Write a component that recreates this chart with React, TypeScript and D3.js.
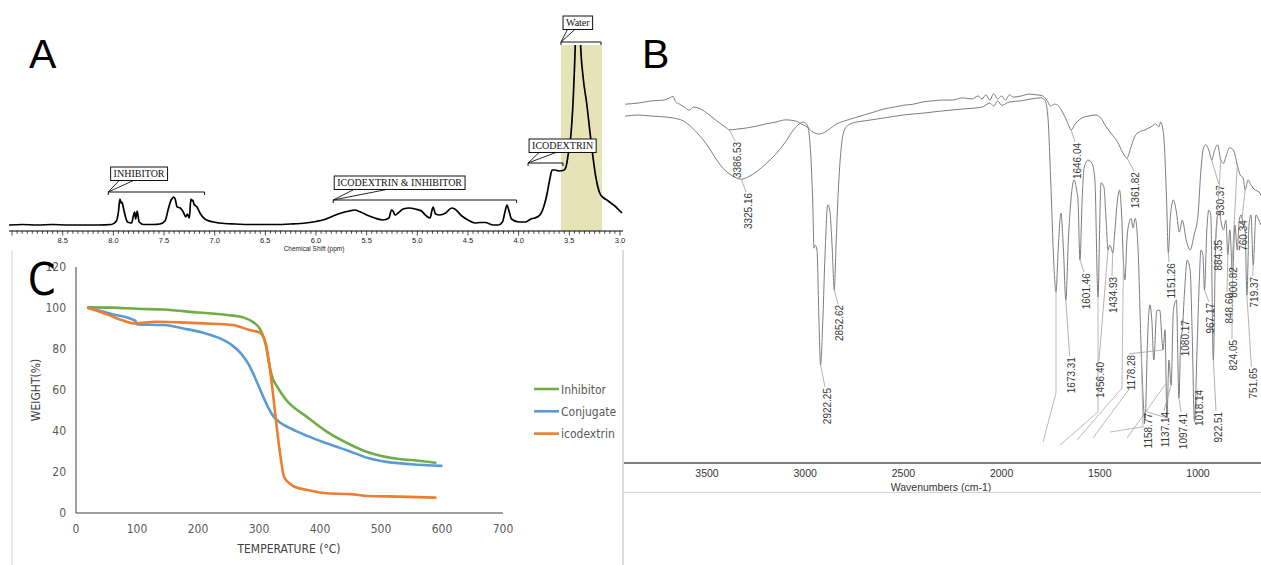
import React, { useEffect, useRef } from "react";
import * as d3 from "d3";

const WIDTH = 1261;
const HEIGHT = 565;

// ---------- A: 1H NMR (chemical shift ppm, signal height)
const nmrSpectrum: [number, number][] = [
  [9.03, 1], [8.9, 1.5], [8.75, 1], [8.6, 1.5], [8.45, 1], [8.3, 1], [8.15, 1], [8.02, 1.5],
  [7.97, 5], [7.95, 14], [7.935, 27], [7.925, 23], [7.915, 24], [7.905, 20], [7.885, 11],
  [7.86, 4], [7.82, 3], [7.805, 9], [7.79, 14], [7.78, 7], [7.765, 15], [7.745, 4], [7.7, 1.5],
  [7.6, 1.5], [7.54, 2], [7.49, 5], [7.46, 16], [7.43, 26], [7.415, 28], [7.405, 29], [7.39, 27],
  [7.37, 19], [7.34, 18], [7.31, 14], [7.285, 9], [7.27, 12], [7.25, 8], [7.235, 27], [7.222, 25],
  [7.215, 26], [7.205, 22], [7.175, 19], [7.145, 13], [7.08, 6], [6.95, 3], [6.8, 2], [6.6, 1.5],
  [6.4, 1.5], [6.25, 2], [6.1, 3], [6.0, 4.5], [5.9, 7], [5.83, 10], [5.75, 13], [5.67, 15],
  [5.62, 16], [5.56, 14], [5.5, 11], [5.42, 8], [5.34, 6], [5.28, 8], [5.255, 16], [5.24, 15],
  [5.22, 11], [5.19, 13], [5.14, 17], [5.08, 18], [5.02, 17], [4.96, 15], [4.91, 10], [4.875, 8],
  [4.845, 19], [4.82, 12], [4.78, 11], [4.72, 13], [4.66, 18], [4.63, 17], [4.56, 10], [4.5, 6],
  [4.43, 3], [4.38, 3.5], [4.33, 3.5], [4.25, 1], [4.2, 1], [4.16, 4], [4.135, 14], [4.115, 21],
  [4.095, 15], [4.07, 7], [4.0, 4], [3.93, 4], [3.88, 7], [3.84, 8], [3.79, 11], [3.75, 20],
  [3.72, 32], [3.69, 48], [3.67, 56], [3.64, 56], [3.6, 55], [3.55, 56], [3.53, 60], [3.51, 72],
  [3.49, 85], [3.46, 130], [3.44, 185], [3.415, 300], [3.39, 185], [3.365, 150], [3.33, 124],
  [3.28, 80], [3.24, 50], [3.2, 33], [3.16, 28], [3.13, 26], [3.09, 23], [3.05, 20], [3.0, 15],
  [2.98, 13]
];
const nmrTickLabels = [8.5, 8.0, 7.5, 7.0, 6.5, 6.0, 5.5, 5.0, 4.5, 4.0, 3.5, 3.0];
const nmrRegions = [
  { name: "INHIBITOR", from: 8.05, to: 7.1, level: 34, boxAt: 8.027, boxTop: 59 },
  { name: "ICODEXTRIN & INHIBITOR", from: 5.83, to: 4.02, level: 26, boxAt: 5.82, boxTop: 50 },
  { name: "ICODEXTRIN", from: 3.907, to: 3.562, level: 63, boxAt: 3.897, boxTop: 87 },
  { name: "Water", from: 3.582, to: 3.187, level: 184, boxAt: 3.562, boxTop: 210 }
];
const waterBand = { from: 3.582, to: 3.177, top: 181 };

// ---------- B: FTIR (wavenumber cm-1, %T)
const ftirTop: [number, number][] = [
  [3917, 96.2], [3850, 96.5], [3780, 97.1], [3720, 97.3], [3690, 97.9], [3673, 98.3], [3660, 96.8],
  [3640, 96.2], [3610, 95.2], [3590, 94.6], [3570, 95.4], [3545, 95.2], [3500, 93.8], [3450, 91.7],
  [3400, 89.8], [3386, 89.3], [3350, 89.5], [3300, 89.8], [3250, 90.3], [3200, 90.9], [3150, 91.4],
  [3100, 92.0], [3050, 91.7], [3020, 90.9], [2990, 90.1], [2960, 88.7], [2930, 88.2], [2900, 88.7],
  [2870, 89.8], [2840, 90.9], [2800, 91.7], [2750, 92.5], [2700, 93.3], [2650, 94.1], [2600, 94.9],
  [2550, 95.4], [2500, 95.9], [2450, 96.2], [2400, 96.8], [2350, 97.1], [2300, 97.3], [2250, 97.3],
  [2200, 97.9], [2150, 97.6], [2120, 98.4], [2100, 97.6], [2080, 98.7], [2060, 97.3], [2040, 99.0],
  [2020, 97.6], [2000, 98.4], [1980, 97.3], [1960, 98.7], [1940, 98.1], [1900, 98.4], [1860, 98.9],
  [1820, 98.7], [1790, 98.4], [1770, 97.3], [1750, 95.7], [1730, 96.2], [1710, 95.7], [1690, 94.1],
  [1665, 91.4], [1646, 89.3], [1625, 90.9], [1600, 92.2], [1560, 93.0], [1520, 93.3], [1495, 92.5],
  [1470, 90.3], [1440, 88.2], [1410, 86.1], [1385, 83.4], [1362, 81.8], [1340, 84.9], [1320, 87.7],
  [1300, 88.7], [1270, 89.3], [1240, 90.1], [1215, 90.9], [1200, 90.1], [1190, 91.4], [1175, 87.9],
  [1160, 70.5], [1151, 56.3], [1140, 66.5], [1125, 70.5], [1110, 67.3], [1095, 61.9], [1080, 65.1],
  [1060, 59.8], [1040, 57.1], [1020, 61.1], [1000, 66.5], [985, 78.6], [972, 84.5], [960, 85.3],
  [945, 83.9], [930, 81.2], [918, 83.4], [900, 85.3], [884, 81.2], [870, 80.4], [855, 82.6],
  [840, 84.5], [820, 83.9], [800, 79.9], [785, 77.2], [770, 76.4], [760, 73.2], [745, 75.9],
  [730, 74.5], [710, 73.2], [690, 72.7], [680, 71.8]
];
const ftirBottom: [number, number][] = [
  [3917, 93.0], [3850, 93.3], [3780, 93.0], [3720, 92.8], [3673, 92.5], [3620, 91.7], [3580, 90.1],
  [3540, 87.9], [3500, 85.3], [3460, 82.0], [3420, 79.1], [3386, 77.5], [3350, 76.4], [3325, 76.1],
  [3290, 76.7], [3250, 78.0], [3200, 80.2], [3150, 82.8], [3100, 86.1], [3060, 89.3], [3030, 90.9],
  [3010, 91.4], [2990, 90.6], [2975, 85.3], [2962, 70.5], [2955, 57.6], [2948, 58.4], [2940, 57.1],
  [2930, 38.3], [2922, 26.3], [2912, 35.7], [2900, 54.4], [2885, 69.2], [2875, 67.8], [2862, 57.1],
  [2852, 46.4], [2842, 59.8], [2830, 74.5], [2815, 85.3], [2800, 89.3], [2780, 90.6], [2740, 91.4],
  [2700, 91.7], [2600, 92.5], [2500, 93.3], [2400, 93.8], [2300, 94.4], [2200, 94.9], [2100, 95.4],
  [2060, 96.5], [2040, 95.7], [2020, 97.1], [2000, 95.9], [1960, 96.8], [1900, 97.1], [1850, 97.6],
  [1800, 97.9], [1780, 97.3], [1765, 93.3], [1750, 75.9], [1735, 54.4], [1723, 45.8], [1712, 57.1],
  [1698, 67.0], [1685, 57.1], [1673, 43.7], [1660, 59.8], [1647, 70.5], [1631, 75.9], [1618, 73.2],
  [1611, 70.5], [1601, 54.4], [1590, 70.5], [1580, 79.1], [1560, 81.2], [1540, 80.4], [1525, 75.9],
  [1509, 44.5], [1500, 65.1], [1494, 75.1], [1479, 74.0], [1468, 65.1], [1458, 57.1], [1450, 58.4],
  [1443, 57.9], [1434, 56.3], [1425, 61.1], [1410, 70.5], [1400, 73.2], [1390, 67.8], [1380, 54.4],
  [1372, 49.1], [1362, 59.8], [1350, 64.6], [1340, 65.6], [1331, 63.0], [1320, 65.6], [1305, 57.1],
  [1290, 31.6], [1270, 11.5], [1255, 35.7], [1245, 42.4], [1235, 38.3], [1225, 27.6], [1210, 40.8],
  [1195, 41.0], [1178, 30.3], [1168, 35.7], [1158, 12.1], [1148, 27.6], [1137, 20.9], [1125, 41.0],
  [1110, 43.7], [1097, 17.4], [1088, 33.0], [1080, 35.7], [1068, 46.4], [1055, 54.4], [1040, 51.7],
  [1030, 35.7], [1018, 11.0], [1005, 30.3], [995, 46.4], [985, 57.1], [975, 55.8], [967, 46.4],
  [955, 62.5], [945, 67.8], [935, 66.5], [922, 27.6], [910, 59.8], [900, 66.5], [890, 67.3],
  [884, 65.1], [870, 62.5], [858, 65.1], [848, 55.8], [838, 62.5], [824, 50.4], [812, 63.8],
  [800, 57.1], [790, 65.1], [780, 66.5], [770, 63.8], [760, 61.9], [751, 45.0], [740, 63.8],
  [730, 66.5], [719, 53.1], [705, 66.5], [690, 65.1], [680, 63.8]
];
const ftirTicks = [3500, 3000, 2500, 2000, 1500, 1000];
// label, peak wavenumber, peak %T, label wavenumber, label top %T
const ftirPeaks: [string, number, number, number, number][] = [
  ["3386.53", 3386, 89.3, 3347, 86.1],
  ["3325.16", 3325, 76.1, 3291, 72.4],
  ["2922.25", 2922, 26.3, 2889, 20.1],
  ["2852.62", 2852, 46.4, 2823, 42.4],
  ["1646.04", 1646, 89.3, 1616, 85.8],
  ["1361.82", 1362, 81.8, 1316, 78.0],
  ["1673.31", 1673, 43.7, 1643, 28.4],
  ["1601.46", 1601, 54.4, 1570, 50.9],
  ["1456.40", 1458, 57.1, 1494, 27.1],
  ["1434.93", 1434, 56.3, 1428, 49.9],
  ["1178.28", 1178, 30.3, 1341, 29.0],
  ["1151.26", 1151, 56.3, 1137, 53.6],
  ["1158.77", 1158, 12.1, 1250, 13.4],
  ["1137.14", 1137, 20.9, 1163, 13.7],
  ["1097.41", 1097, 17.4, 1076, 13.4],
  ["1080.17", 1080, 35.7, 1066, 38.3],
  ["1018.14", 1018, 11.0, 990, 19.6],
  ["967.17", 967, 46.4, 934, 42.9],
  ["922.51", 922, 27.6, 898, 13.7],
  ["930.37", 930, 81.2, 884, 74.5],
  ["884.35", 884, 81.2, 898, 59.8],
  ["848.60", 848, 55.8, 842, 45.6],
  ["824.05", 824, 50.4, 817, 33.0],
  ["800.82", 800, 79.9, 817, 52.5],
  ["760.34", 760, 73.2, 766, 65.1],
  ["751.65", 751, 45.0, 718, 25.5],
  ["719.37", 719, 53.1, 711, 49.9]
];
const ftirLeaders: [number, number][][] = [
  [[1723, 45.8], [1723, 18.8], [1789, 5.6]],
  [[1509, 44.5], [1509, 13.7], [1703, 4.8]],
  [[1380, 54.4], [1387, 20.1], [1616, 6.2]],
  [[1346, 20.1], [1535, 6.7]],
  [[1290, 31.6], [1280, 9.7], [1448, 8.3]],
  [[1158, 21.7], [1361, 6.7]]
];

// ---------- C: TGA (temperature C, weight %)
const tgaInhibitor: [number, number][] = [
  [20, 100.3], [60, 100.2], [100, 99.6], [143, 99.3], [200, 97.8], [251, 96.5], [275, 95.3],
  [291, 93], [300, 90.5], [306, 87], [311, 82], [316, 74], [321, 67], [330, 61.5], [345, 55],
  [378, 47], [411, 39.7], [450, 33.3], [475, 30], [505, 27.5], [530, 26.3], [560, 25.5], [589, 24.5]
];
const tgaConjugate: [number, number][] = [
  [20, 100], [60, 97], [97, 93.8], [100, 92], [143, 91.7], [180, 89.8], [210, 87.8], [235, 85.3],
  [255, 82], [270, 78], [283, 72.5], [295, 65], [305, 58], [315, 51.5], [324, 47], [335, 44],
  [350, 41.5], [380, 37.5], [411, 34], [445, 30.5], [479, 26.8], [512, 24.8], [550, 23.8], [599, 23]
];
const tgaIcodextrin: [number, number][] = [
  [20, 100], [50, 97], [76, 94], [97, 92.5], [130, 93.3], [170, 93], [210, 92.5], [257, 91.7],
  [284, 89.3], [301, 88], [311, 83], [316, 74], [321, 63], [326, 50], [331, 37], [336, 26],
  [341, 17.7], [350, 14.5], [358, 12.8], [380, 11.2], [411, 9.6], [450, 9.2], [479, 8.3],
  [530, 8], [589, 7.5]
];
const tgaSeries = [
  { name: "Inhibitor", color: "#70ad47", values: tgaInhibitor },
  { name: "Conjugate", color: "#5b9bd5", values: tgaConjugate },
  { name: "icodextrin", color: "#ed7d31", values: tgaIcodextrin }
];
const tempTicks = [0, 100, 200, 300, 400, 500, 600, 700];
const weightTicks = [0, 20, 40, 60, 80, 100, 120];

const SANS = "'Liberation Sans', Arial, sans-serif";
const SERIF = "'Liberation Serif', 'Times New Roman', serif";
const NARROW = "'Liberation Sans Narrow', 'DejaVu Sans Condensed', 'Liberation Sans', sans-serif";

type G = d3.Selection<SVGGElement, unknown, null, undefined>;

function drawNmr(g: G) {
  const x = d3.scaleLinear().domain([9.03, 2.97]).range([9, 623]);
  const y = d3.scaleLinear().domain([0, 180]).range([226, 46]);
  const axisY = 231;

  // water highlight
  g.append("rect")
    .attr("x", x(waterBand.from))
    .attr("y", y(waterBand.top))
    .attr("width", x(waterBand.to) - x(waterBand.from))
    .attr("height", axisY - y(waterBand.top))
    .attr("fill", "#e6e4b6");

  g.append("clipPath").attr("id", "nmr-clip")
    .append("rect").attr("x", 0).attr("y", y(waterBand.top)).attr("width", 630).attr("height", 190);

  const line = d3.line<[number, number]>()
    .x(d => x(d[0]))
    .y(d => y(d[1]))
    .curve(d3.curveMonotoneX);
  g.append("path")
    .attr("d", line(nmrSpectrum))
    .attr("clip-path", "url(#nmr-clip)")
    .attr("fill", "none")
    .attr("stroke", "#000")
    .attr("stroke-width", 1.7);

  // axis
  g.append("line").attr("x1", 9).attr("x2", 623).attr("y1", axisY).attr("y2", axisY)
    .attr("stroke", "#000").attr("stroke-width", 1.2);
  const minor = d3.range(0, 121).map(i => 3 + i * 0.05).filter(v => v <= 9.03);
  g.selectAll(".nmr-tick").data(minor).enter().append("line")
    .attr("x1", d => x(d)).attr("x2", d => x(d))
    .attr("y1", axisY)
    .attr("y2", (d, i) => axisY + (i % 10 === 0 ? 4.5 : 2.8))
    .attr("stroke", "#000").attr("stroke-width", 0.7);
  g.selectAll(".nmr-lab").data(nmrTickLabels).enter().append("text")
    .attr("x", d => x(d)).attr("y", 242.5)
    .attr("text-anchor", "middle")
    .attr("font-family", SANS).attr("font-size", 7.5).attr("fill", "#222")
    .text(d => d.toFixed(1));
  g.append("text").attr("x", 314).attr("y", 250.5).attr("text-anchor", "middle")
    .attr("font-family", SANS).attr("font-size", 6.5).attr("fill", "#222")
    .text("Chemical Shift (ppm)");

  // region annotations
  nmrRegions.forEach(r => {
    const by = y(r.level);
    g.append("path")
      .attr("d", `M${x(r.from)},${by + 3}V${by}H${x(r.to)}V${by + 3}`)
      .attr("fill", "none").attr("stroke", "#111").attr("stroke-width", 1);
    const t = g.append("text")
      .attr("font-family", SERIF).attr("font-size", 10).attr("fill", "#111")
      .text(r.name);
    const tw = (t.node() as SVGTextElement).getComputedTextLength();
    const bw = tw + 6;
    const bx = x(r.boxAt);
    const top = y(r.boxTop);
    const bh = 13.5;
    g.append("path")
      .attr("d", `M${bx + bw * 0.15},${top + bh}L${x(r.from)},${by}L${bx + bw * 0.4},${top + bh}`)
      .attr("fill", "#fff").attr("stroke", "#111").attr("stroke-width", 0.9);
    g.append("rect").attr("x", bx).attr("y", top).attr("width", bw).attr("height", bh)
      .attr("fill", "#fff").attr("stroke", "#111").attr("stroke-width", 1);
    t.attr("x", bx + bw / 2).attr("y", top + bh / 2 + 3.6).attr("text-anchor", "middle").raise();
  });

  g.append("text").attr("x", 29).attr("y", 68)
    .attr("font-family", SANS).attr("font-size", 41).attr("fill", "#000").text("A");
}

function drawFtir(g: G) {
  const x = d3.scaleLinear().domain([3500, 1000]).range([707, 1198]);
  const y = d3.scaleLinear().domain([0, 100]).range([463, 90]);

  g.append("clipPath").attr("id", "ftir-clip")
    .append("rect").attr("x", 624).attr("y", 80).attr("width", 640).attr("height", 382);
  const plot = g.append("g").attr("clip-path", "url(#ftir-clip)");

  const line = d3.line<[number, number]>()
    .x(d => x(d[0]))
    .y(d => y(d[1]))
    .curve(d3.curveMonotoneX);
  [ftirTop, ftirBottom].forEach(s => {
    plot.append("path").attr("d", line(s))
      .attr("fill", "none").attr("stroke", "#7d7d7d").attr("stroke-width", 1);
  });

  const leader = d3.line<[number, number]>().x(d => x(d[0])).y(d => y(d[1]));
  ftirLeaders.forEach(l => {
    plot.append("path").attr("d", leader(l))
      .attr("fill", "none").attr("stroke", "#a8a8a8").attr("stroke-width", 0.8);
  });
  ftirPeaks.forEach(([label, pw, pt, lw, lt]) => {
    plot.append("line")
      .attr("x1", x(pw)).attr("y1", y(pt))
      .attr("x2", x(lw) - 2).attr("y2", y(lt) - 1)
      .attr("stroke", "#a0a0a0").attr("stroke-width", 0.8);
    plot.append("text")
      .attr("transform", `translate(${x(lw)},${y(lt)}) rotate(-90)`)
      .attr("text-anchor", "end").attr("dy", "0.35em")
      .attr("font-family", SANS).attr("font-size", 10).attr("fill", "#3a3a3a")
      .text(label);
  });

  // axis
  g.append("line").attr("x1", 624).attr("x2", WIDTH).attr("y1", 463).attr("y2", 463)
    .attr("stroke", "#555").attr("stroke-width", 1.5);
  g.selectAll(".ir-lab").data(ftirTicks).enter().append("text")
    .attr("x", d => x(d)).attr("y", 477)
    .attr("text-anchor", "middle")
    .attr("font-family", SANS).attr("font-size", 10.5).attr("fill", "#333")
    .text(d => String(d));
  g.append("text").attr("x", 941).attr("y", 491).attr("text-anchor", "middle")
    .attr("font-family", SANS).attr("font-size", 10.5).attr("fill", "#333")
    .text("Wavenumbers (cm-1)");
  g.append("line").attr("x1", 623).attr("x2", WIDTH).attr("y1", 492.5).attr("y2", 492.5)
    .attr("stroke", "#d6d6d6").attr("stroke-width", 1);

  g.append("text").attr("x", 642).attr("y", 68)
    .attr("font-family", SANS).attr("font-size", 41).attr("fill", "#000").text("B");
}

function drawTga(g: G) {
  const x = d3.scaleLinear().domain([0, 700]).range([76, 503]);
  const y = d3.scaleLinear().domain([0, 120]).range([513, 267]);

  g.selectAll(".ylab").data(weightTicks).enter().append("text")
    .attr("x", 66).attr("y", d => y(d) + 4)
    .attr("text-anchor", "end")
    .attr("font-family", NARROW).attr("font-size", 12).attr("fill", "#595959")
    .text(d => String(d));
  g.selectAll(".xlab").data(tempTicks).enter().append("text")
    .attr("x", d => x(d)).attr("y", 533)
    .attr("text-anchor", "middle")
    .attr("font-family", NARROW).attr("font-size", 12).attr("fill", "#595959")
    .text(d => String(d));

  g.append("line").attr("x1", x(0)).attr("x2", x(0)).attr("y1", y(120)).attr("y2", y(0))
    .attr("stroke", "#404040").attr("stroke-width", 1);
  g.append("line").attr("x1", x(0)).attr("x2", x(700)).attr("y1", y(0)).attr("y2", y(0))
    .attr("stroke", "#404040").attr("stroke-width", 1);

  const line = d3.line<[number, number]>()
    .x(d => x(d[0]))
    .y(d => y(d[1]))
    .curve(d3.curveMonotoneX);
  tgaSeries.forEach(s => {
    g.append("path").attr("d", line(s.values))
      .attr("fill", "none").attr("stroke", s.color)
      .attr("stroke-width", 2.6).attr("stroke-linejoin", "round").attr("stroke-linecap", "round");
  });

  g.append("text").attr("x", 289).attr("y", 553).attr("text-anchor", "middle")
    .attr("font-family", NARROW).attr("font-size", 12).attr("fill", "#404040")
    .text("TEMPERATURE (°C)");
  g.append("text").attr("transform", "translate(40,390) rotate(-90)")
    .attr("text-anchor", "middle")
    .attr("font-family", NARROW).attr("font-size", 12).attr("fill", "#404040")
    .text("WEIGHT(%)");

  const legend = g.selectAll(".leg").data(tgaSeries).enter().append("g")
    .attr("transform", (d, i) => `translate(534,${389 + i * 22.3})`);
  legend.append("line").attr("x1", 0).attr("x2", 25).attr("y1", 0).attr("y2", 0)
    .attr("stroke", d => d.color).attr("stroke-width", 2.6);
  legend.append("text").attr("x", 27).attr("y", 4.5)
    .attr("font-family", NARROW).attr("font-size", 12).attr("fill", "#595959")
    .text(d => d.name);

  g.append("text").attr("x", 28).attr("y", 295)
    .attr("font-family", NARROW).attr("font-size", 44).attr("fill", "#000").text("C");
}

export default function App() {
  const ref = useRef<SVGSVGElement>(null);

  useEffect(() => {
    const svg = d3.select(ref.current);
    svg.selectAll("*").remove();
    svg.append("rect").attr("width", WIDTH).attr("height", HEIGHT).attr("fill", "#fff");

    // image borders of the pasted panels
    svg.append("line").attr("x1", 12).attr("x2", 12).attr("y1", 250).attr("y2", HEIGHT)
      .attr("stroke", "#d4d4d4");
    svg.append("line").attr("x1", 623).attr("x2", 623).attr("y1", 250).attr("y2", HEIGHT)
      .attr("stroke", "#bcbcbc");

    drawNmr(svg.append("g") as G);
    drawFtir(svg.append("g") as G);
    drawTga(svg.append("g") as G);
  }, []);

  return (
    <svg
      ref={ref}
      width={WIDTH}
      height={HEIGHT}
      style={{ position: "absolute", left: 0, top: 0, display: "block" }}
    />
  );
}
